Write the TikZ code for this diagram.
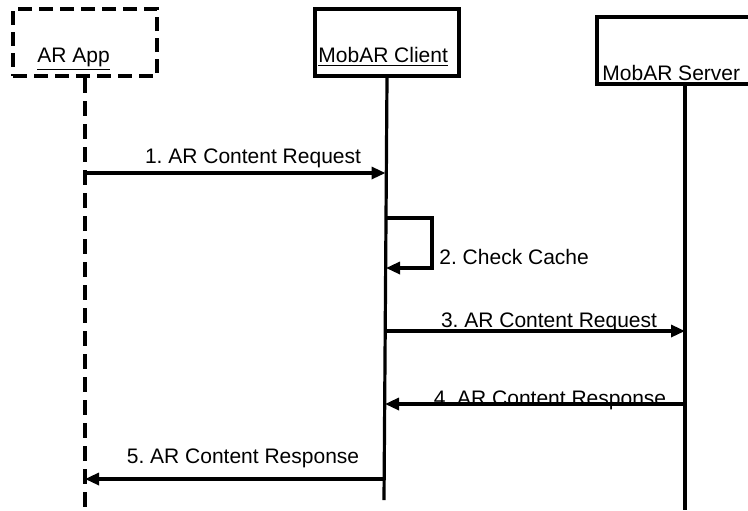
\documentclass[tikz,border=0pt]{standalone}
\usepackage{fontspec}
\setmainfont{Liberation Sans}
\usepackage{tikz}
\usetikzlibrary{arrows.meta,positioning}
\frenchspacing

\begin{document}
\begin{tikzpicture}[x=0.5pt,y=-0.5pt,
        actor/.style={draw,line width=2pt,minimum width=72pt,minimum height=33.5pt,inner sep=0pt},
        actorname/.style={anchor=base west,inner sep=0pt,font=\fontsize{10.5}{12}\selectfont},
        life/.style={line width=1.6pt},
        msg/.style={line width=1.6pt,-{Triangle[length=7pt,width=6pt]}},
        msgtext/.style={anchor=base,inner sep=0pt,font=\fontsize{10.5}{12}\selectfont}]
            \useasboundingbox (0, 0) rectangle (748, 510);

            % Actors
            \node[actor,dash pattern=on 7pt off 3.5pt] (app) at (85, 42.5) {};
            \node[actorname] (applabel) at (37, 62) {\underline{AR App}};
            \node[actor] (client) at (387, 42.5) {};
            \node[actorname] (clientlabel) at (318, 62) {\underline{MobAR Client}};
            \node[actor,minimum width=88pt] (server) at (685, 50) {};
            \node[actorname] (serverlabel) at (602, 80) {\underline{MobAR Server}};

            % Lifelines
            \coordinate (append) at (85, 510);
            \coordinate (clientend) at (384, 500);
            \coordinate (serverend) at (685, 510);
            \draw[life,dash pattern=on 7.5pt off 4pt] (app.south) -- (append);
            \draw[life] (client.south) -- (clientend);
            \draw[life] (server.south) -- (serverend);

            % 1. request from the app
            \draw[msg] (app.south |- 0, 173) -- (385.5, 173);
            \node[msgtext] (m1) at (253, 163) {1. AR Content Request};

            % 2. cache check on the client
            \coordinate (loopa) at (386, 218);
            \coordinate (loopb) at (432, 218);
            \coordinate (loopc) at (432, 268);
            \coordinate (loopd) at (386, 268);
            \draw[msg] (loopa) -- (loopb) -- (loopc) -- (loopd);
            \node[msgtext,anchor=base west] (m2) at (439, 264) {2. Check Cache};

            % 3. request to the server
            \draw[msg] (386, 331) -- (server.south |- 0, 331);
            \node[msgtext] (m3) at (549, 327) {3. AR Content Request};

            % 4. response from the server
            \draw[msg] (server.south |- 0, 404) -- (385, 404);
            \node[msgtext] (m4) at (550, 405) {4. AR Content Response};

            % 5. response to the app
            \draw[msg] (384, 479) -- (app.south |- 0, 479);
            \node[msgtext] (m5) at (243, 463) {5. AR Content Response};
\end{tikzpicture}
\end{document}
